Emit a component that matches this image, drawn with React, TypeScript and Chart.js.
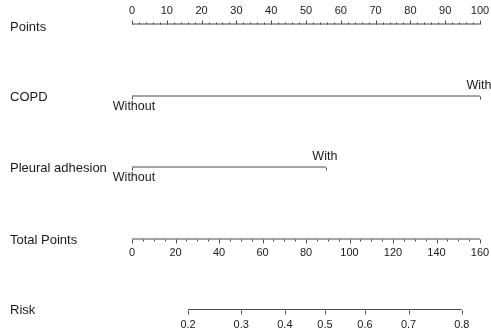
import React, { useEffect, useRef } from "react";
import { Chart, registerables } from "chart.js";

Chart.register(...registerables);

// ---- Data ----
const rowLabels = ["Points", "COPD", "Pleural adhesion", "Total Points", "Risk"];
const pointsTicks = [0, 10, 20, 30, 40, 50, 60, 70, 80, 90, 100];
const pointsMinorStep = 2;
const copdLevels = ["Without", "With"];
const copdPoints = [0, 100];
const pleuralLevels = ["Without", "With"];
const pleuralPoints = [0, 55.7];
const totalTicks = [0, 20, 40, 60, 80, 100, 120, 140, 160];
const totalMinorStep = 5;
const riskTicks = [0.2, 0.3, 0.4, 0.5, 0.6, 0.7, 0.8];
// total points = riskIntercept + riskSlope * logit(risk)
const riskIntercept = 88.7;
const riskSlope = 45.4;

// ---- Layout ----
const W = 491;
const H = 335;
const ROW_Y = [24, 96, 167, 239, 309.5];
const LABEL_X = 10;
const LINE_COLOR = "#4a4a4a";
const TEXT_COLOR = "#1a1a1a";
const FONT = '"Liberation Sans", Arial, Helvetica, sans-serif';

const totalMax = totalTicks[totalTicks.length - 1];
const pointsMax = pointsTicks[pointsTicks.length - 1];
const totalToPts = (t: number) => (t * pointsMax) / totalMax;
const riskToPts = (p: number) =>
  totalToPts(riskIntercept + riskSlope * Math.log(p / (1 - p)));

const nomogramPlugin = {
  id: "nomogram",
  afterDatasetsDraw(chart: any) {
    const { ctx } = chart;
    const xs = chart.scales.x;
    const ys = chart.scales.y;
    const px = (v: number) => xs.getPixelForValue(v);
    const py = (row: number) => ys.getPixelForValue(ROW_Y[row]);
    ctx.save();
    ctx.strokeStyle = LINE_COLOR;
    ctx.lineWidth = 1;
    const tick = (x: number, y: number, len: number) => {
      const xx = Math.round(x) + 0.5;
      const yy = Math.round(y) + 0.5;
      ctx.beginPath();
      ctx.moveTo(xx, yy);
      ctx.lineTo(xx, yy + len);
      ctx.stroke();
    };
    ctx.fillStyle = TEXT_COLOR;
    ctx.textBaseline = "middle";

    // row labels
    ctx.textAlign = "left";
    ctx.font = `13px ${FONT}`;
    const labelOffsets = [3, 1, 1, 1, 1];
    rowLabels.forEach((lab, i) => {
      ctx.fillText(lab, LABEL_X, py(i) + labelOffsets[i]);
    });

    ctx.textAlign = "center";
    // Points axis (ticks up, labels above)
    let y = py(0);
    for (let v = 0; v <= pointsMax + 1e-9; v += pointsMinorStep) {
      const major = pointsTicks.includes(v);
      tick(px(v), y, major ? -4 : -2);
    }
    ctx.font = `11px ${FONT}`;
    pointsTicks.forEach((v) => ctx.fillText(String(v), px(v), y - 13));

    // Categorical rows
    const cat = (row: number, levels: string[], pts: number[]) => {
      const yy = py(row);
      ctx.font = `12.5px ${FONT}`;
      pts.forEach((p, i) => {
        tick(px(p), yy, 3);
        if (i % 2 === 0) ctx.fillText(levels[i], px(p) + 2, yy + 10.5);
        else ctx.fillText(levels[i], px(p) - 1, yy - 10.5);
      });
    };
    cat(1, copdLevels, copdPoints);
    cat(2, pleuralLevels, pleuralPoints);

    // Total points (ticks down, labels below)
    y = py(3);
    for (let v = 0; v <= totalMax + 1e-9; v += totalMinorStep) {
      const major = totalTicks.includes(v);
      tick(px(totalToPts(v)), y, major ? 4 : 2);
    }
    ctx.font = `11px ${FONT}`;
    totalTicks.forEach((v) => ctx.fillText(String(v), px(totalToPts(v)), y + 14));

    // Risk
    y = py(4);
    riskTicks.forEach((p) => {
      tick(px(riskToPts(p)), y, 4);
      ctx.fillText(p.toFixed(1), px(riskToPts(p)), y + 15);
    });
    ctx.restore();
  },
};

export default function App() {
  const ref = useRef<HTMLCanvasElement>(null);
  useEffect(() => {
    if (!ref.current) return;
    const seg = (x0: number, x1: number, row: number) => ({
      data: [
        { x: x0, y: ROW_Y[row] },
        { x: x1, y: ROW_Y[row] },
      ],
      showLine: true,
      borderColor: LINE_COLOR,
      borderWidth: 1,
      pointRadius: 0,
      pointHoverRadius: 0,
    });
    const chart = new Chart(ref.current, {
      type: "scatter",
      data: {
        datasets: [
          seg(pointsTicks[0], pointsMax, 0),
          seg(copdPoints[0], copdPoints[1], 1),
          seg(pleuralPoints[0], pleuralPoints[1], 2),
          seg(totalToPts(totalTicks[0]), totalToPts(totalMax), 3),
          seg(riskToPts(riskTicks[0]), riskToPts(riskTicks[riskTicks.length - 1]), 4),
        ],
      },
      options: {
        animation: false,
        responsive: false,
        devicePixelRatio: 1,
        layout: { padding: { left: 132, right: 11, top: 0, bottom: 0 } },
        plugins: { legend: { display: false }, tooltip: { enabled: false } },
        events: [],
        scales: {
          x: { type: "linear", min: 0, max: pointsMax, display: false },
          y: { type: "linear", min: 0, max: H, reverse: true, display: false },
        },
      },
      plugins: [nomogramPlugin],
    });
    return () => chart.destroy();
  }, []);
  return (
    <div style={{ position: "fixed", left: 0, top: 0, width: W, height: H, background: "#fff" }}>
      <canvas ref={ref} width={W} height={H} style={{ width: W, height: H }} />
    </div>
  );
}
